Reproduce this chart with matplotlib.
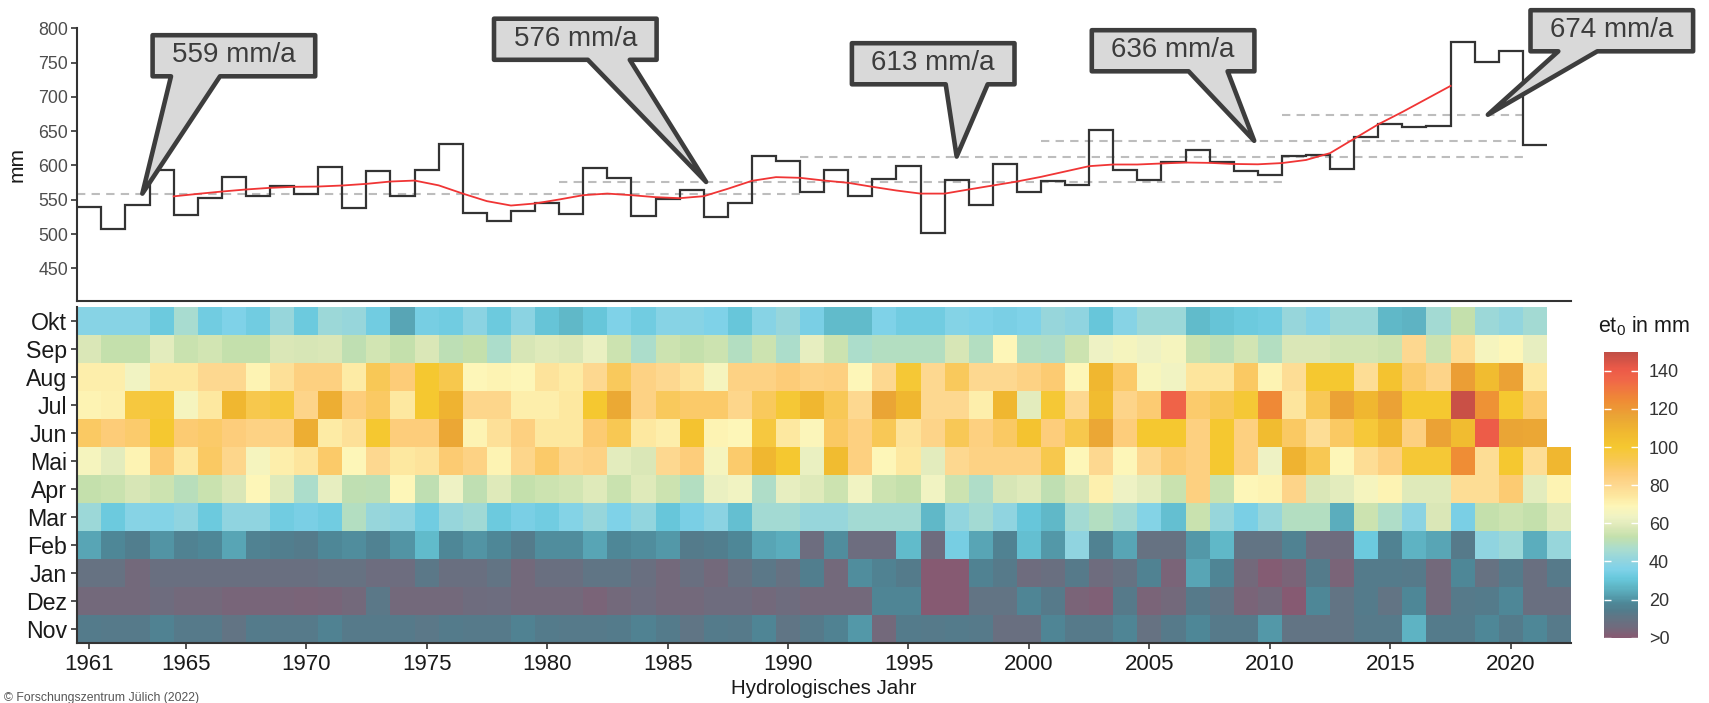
import numpy as np
import matplotlib
matplotlib.use('Agg')
import matplotlib.pyplot as plt
from matplotlib.colors import LinearSegmentedColormap, Normalize
from matplotlib.patches import Polygon
from matplotlib.transforms import IdentityTransform

plt.rcParams['font.family'] = ['Liberation Sans', 'DejaVu Sans']
plt.rcParams['mathtext.fontset'] = 'custom'
plt.rcParams['mathtext.rm'] = 'Liberation Sans'
plt.rcParams['mathtext.it'] = 'Liberation Sans:italic'

nan = np.nan

### annual sums (hydrological years 1961-2021)
step_years = np.arange(1961, 2022)
annual = [539, 508, 542, 594, 528, 552, 583, 555, 570, 559,
          598, 538, 592, 555, 593, 631, 530.5, 519, 533, 546,
          529.5, 596.6, 582, 526, 551, 564.5, 525.6, 545, 614.5, 607,
          561, 593, 555, 580.5, 599.5, 501, 579, 543, 602, 561.6,
          577, 572, 652, 593, 579.5, 605, 622, 605.6, 592, 586,
          613.4, 615, 594.5, 642, 660, 656, 657.6, 779.6, 751.4, 767.4,
          630.4]

# smoothed curve (red)
smooth_x = np.arange(1964.5, 2018.0, 1.0)
smooth_y = [555, 558.6, 562, 565, 567.4, 568.9, 569.3, 570.8, 573.2, 576.6, 578,
            571, 559, 548, 541.6, 544.6, 550.4, 556.7, 559, 556.7, 553.8,
            552.3, 555.2, 566, 577.6, 583, 582, 578, 574.7, 568.9, 563.5,
            559, 559, 565, 570.8, 576.6, 583.4, 591.2, 599, 601.4, 601.4,
            602.9, 604.3, 603.8, 602.2, 601.7, 603.5, 608, 618, 639, 660,
            678, 697, 716]

# period means (dashed lines + callouts)
period_start = [1961, 1981, 1991, 2001, 2011]
period_end = [1990, 2010, 2020, 2020, 2020]
period_mean = [559, 576, 613, 636, 674]

### monthly et0 (1961-2022)
years = np.arange(1961, 2023)
months = ['Nov', 'Dez', 'Jan', 'Feb', 'Mar', 'Apr', 'Mai', 'Jun', 'Jul', 'Aug', 'Sep', 'Okt']

nov = [14, 13, 13, 16, 13, 13, 10, 14, 13, 13, 16, 13, 13, 13, 12, 14, 13, 13, 16, 14,
       13, 13, 14, 16, 14, 11, 14, 13, 17, 11, 13, 16, 21, 5, 14, 13, 14, 13, 8, 8,
       17, 13, 13, 17, 9, 13, 18, 13, 13, 21, 10, 10, 10, 13, 13, 26, 14, 14, 18, 14,
       18, 13]
dez = [5, 5, 5, 6, 5, 5, 4, 4, 4, 3, 4, 5, 12, 5, 5, 5, 6, 7, 5, 5,
       5, 3, 5, 7, 5, 5, 6, 6, 5, 6, 5, 5, 5, 17, 17, 0.5, 0.5, 10, 10, 17,
       13, 3, 2, 13, 3, 5, 13, 11, 3, 5, 0.5, 18, 10, 14, 10, 18, 5, 13, 14, 18,
       8, 8]
jan = [9, 9, 5, 8, 8, 8, 8, 8, 8, 8, 9, 9, 7, 7, 12, 8, 8, 10, 5, 8,
       8, 11, 11, 8, 5, 8, 5, 9, 12, 9, 15, 5, 19, 16, 14, 0.5, 0.5, 16, 13, 6,
       8, 13, 6, 9, 16, 3, 23, 17, 5, 1, 3, 14, 3, 14, 14, 13, 5, 18, 9, 14,
       8, 13]
feb = [23, 18, 15, 20, 16, 18, 23, 16, 15, 14, 18, 19, 16, 20, 28, 18, 20, 18, 14, 19,
       19, 23, 18, 19, 21, 14, 15, 18, 23, 25, 7, 19, 7, 7, 28, 6, 34, 23, 16, 29,
       21, 40, 16, 23, 9, 9, 21, 27, 10, 10, 16, 7, 6, 32, 16, 26, 23, 13, 40, 43,
       25, 42]
mar = [43, 32, 38, 37, 40, 32, 40, 40, 33, 35, 33, 49, 42, 40, 33, 42, 44, 32, 35, 33,
       37, 42, 36, 41, 31, 35, 39, 29, 45, 45, 42, 42, 45, 45, 45, 27, 41, 45, 40, 31,
       27, 45, 49, 45, 37, 29, 54, 42, 35, 42, 49, 49, 25, 55, 48, 39, 58, 35, 53, 55,
       53, 59]
apr = [53, 54, 57, 55, 50, 54, 58, 69, 59, 47, 61, 52, 51, 69, 52, 63, 52, 59, 53, 55,
       56, 59, 54, 59, 55, 49, 62, 64, 48, 61, 59, 55, 64, 55, 53, 64, 55, 48, 57, 59,
       52, 57, 71, 63, 60, 54, 84, 54, 69, 70, 82, 58, 60, 66, 70, 59, 59, 78, 78, 87,
       60, 70]
mai = [66, 60, 70, 87, 74, 90, 81, 66, 72, 75, 89, 69, 80, 74, 76, 87, 83, 70, 81, 89,
       81, 83, 60, 58, 80, 85, 66, 88, 108, 100, 62, 106, 84, 69, 74, 60, 80, 83, 83, 83,
       94, 69, 80, 69, 80, 87, 84, 100, 84, 63, 110, 93, 69, 78, 84, 99, 99, 124, 78, 100,
       78, 108]
jun = [90, 86, 88, 100, 87, 89, 85, 83, 83, 112, 73, 77, 100, 85, 85, 115, 70, 77, 84, 74,
       74, 87, 93, 74, 72, 102, 70, 69, 97, 74, 68, 90, 84, 92, 76, 82, 92, 84, 90, 102,
       85, 94, 115, 85, 100, 100, 84, 100, 84, 106, 90, 78, 90, 98, 108, 84, 117, 106, 140, 116,
       115, nan]
jul = [70, 71, 97, 98, 66, 74, 108, 94, 97, 82, 112, 85, 90, 74, 100, 110, 81, 81, 72, 72,
       74, 100, 114, 83, 91, 89, 89, 81, 91, 99, 108, 92, 80, 116, 108, 80, 80, 72, 108, 60,
       99, 80, 106, 82, 87, 137, 88, 92, 99, 125, 75, 92, 117, 108, 117, 100, 100, 148, 122, 100,
       88, nan]
aug = [72, 72, 64, 74, 74, 80, 80, 70, 77, 84, 84, 73, 92, 86, 100, 94, 69, 70, 69, 76,
       73, 80, 91, 83, 80, 76, 66, 83, 83, 86, 83, 84, 69, 80, 99, 80, 91, 80, 80, 83,
       87, 69, 108, 89, 67, 64, 75, 75, 90, 70, 78, 100, 100, 78, 102, 88, 82, 118, 106, 117,
       74, nan]
sep = [58, 53, 53, 60, 54, 56, 53, 53, 58, 57, 58, 52, 56, 53, 58, 51, 53, 47, 57, 59,
       58, 62, 55, 47, 55, 53, 55, 49, 55, 47, 61, 55, 47, 49, 49, 49, 57, 49, 69, 49,
       48, 55, 63, 66, 63, 66, 54, 51, 56, 49, 58, 58, 56, 56, 55, 80, 55, 78, 66, 69,
       61, nan]
okt = [38, 38, 38, 32, 46, 33, 36, 33, 42, 32, 43, 42, 33, 23, 34, 33, 39, 32, 39, 30,
       27, 31, 36, 33, 38, 38, 36, 31, 38, 42, 35, 28, 28, 36, 33, 33, 37, 36, 35, 36,
       42, 40, 31, 38, 43, 43, 28, 30, 32, 33, 42, 38, 43, 43, 27, 26, 45, 53, 43, 41,
       45, nan]

tick_years = [1961, 1965, 1970, 1975, 1980, 1985, 1990, 1995, 2000, 2005, 2010, 2015, 2020]
cbar_ticks = [0, 20, 40, 60, 80, 100, 120, 140]
cbar_labels = ['>0', '20', '40', '60', '80', '100', '120', '140']

### layout / style
W, H = 1709, 703
tip_year = [1963.2, 1986.6, 1997.0, 2009.35, 2019.05]       # where the callout points
box_pos = [(150.4, 33.0), (491.8, 16.5), (849.7, 41.0), (1089.6, 28.0), (1528.3, 8.0)]  # px, top-left
box_base = [(20.6, 69.6), (96, 138), (96, 138), (99, 138), (30, 69)]
box_w, box_h = 167, 45.5

cmap_pos = [0, 3, 6, 10, 14, 18, 22, 27, 31, 36, 40, 46, 53, 58, 63, 69, 74, 80,
            86, 92, 100, 108, 116, 125, 135, 141, 150]
cmap_col = ['#865a72', '#7a6478', '#6e6c7e', '#627484', '#527c8c', '#4e8898', '#56a0b0',
            '#60b8c8', '#68c8dc', '#80d2e8', '#90d4e0', '#a8dcd0', '#c4e0ac', '#dce8b8',
            '#eef2c4', '#fdf6b8', '#fde8a0', '#fdd890', '#fdcc78', '#f8c858', '#f5c830',
            '#f0b830', '#eaa535', '#ef8a35', '#f06848', '#ec5a48', '#c04e46']
cmap = LinearSegmentedColormap.from_list('et0', [(p / 150, c) for p, c in zip(cmap_pos, cmap_col)])
norm = Normalize(vmin=0, vmax=150)

fig = plt.figure(figsize=(W / 100, H / 100), dpi=100)
ax = fig.add_axes([77.3 / W, 1 - 301 / H, (1571 - 77.3) / W, (301 - 28.3) / H])
axh = fig.add_axes([77.3 / W, 1 - 643.3 / H, (1571 - 77.3) / W, (643.3 - 306.7) / H])
cax = fig.add_axes([1603.7 / W, 1 - 637.7 / H, 34.2 / W, 286 / H])

# top panel
for s, e, m in zip(period_start, period_end, period_mean):
    ax.hlines(m, s - 0.5, e + 0.5, colors='#bdbdbd', linestyles=(0, (4, 3)), lw=1.5, zorder=1)
edges = np.append(step_years - 0.5, step_years[-1] + 0.5)
ax.stairs(annual, edges, baseline=None, color='#333333', lw=1.6, zorder=2)
ax.plot(smooth_x, smooth_y, color='#f03535', lw=1.3, zorder=3)
ax.set_xlim(1960.5, 2022.5)
ax.set_ylim(402.4, 800)
ax.set_yticks(np.arange(450, 801, 50))
for sp in ['top', 'right']:
    ax.spines[sp].set_visible(False)
for sp in ['left', 'bottom']:
    ax.spines[sp].set_color('#333333')
    ax.spines[sp].set_linewidth(1.5)
ax.tick_params(axis='x', bottom=False, labelbottom=False)
ax.tick_params(axis='y', color='#333333', labelcolor='#4d4d4d', labelsize=12.8, length=4, width=1.2, pad=2.5)
ax.set_ylabel('mm', fontsize=15, color='#1a1a1a')
ax.yaxis.set_label_coords(-0.034, 0.5)

# heatmap
Z = np.ma.masked_invalid(np.array([nov, dez, jan, feb, mar, apr, mai, jun, jul, aug, sep, okt], dtype=float))
xedges = np.append(years - 0.5, years[-1] + 0.5)
yedges = np.arange(13)
mesh = axh.pcolormesh(xedges, yedges, Z, cmap=cmap, norm=norm)
axh.set_xlim(1960.5, 2022.5)
axh.set_ylim(0, 12)
axh.set_yticks(np.arange(12) + 0.5, months)
axh.set_xticks(tick_years)
for sp in ['top', 'right']:
    axh.spines[sp].set_visible(False)
for sp in ['left', 'bottom']:
    axh.spines[sp].set_color('#333333')
    axh.spines[sp].set_linewidth(1.5)
axh.tick_params(axis='y', labelsize=16.7, labelcolor='#1a1a1a', color='#333333', length=4, width=1.2, pad=3.4)
axh.tick_params(axis='x', labelsize=16, labelcolor='#1a1a1a', color='#333333', length=4, width=1.2, pad=4)
axh.set_xlabel('Hydrologisches Jahr', fontsize=14.8, color='#1a1a1a')
axh.xaxis.set_label_coords(0.5, -0.106)

# colorbar
cb = fig.colorbar(mesh, cax=cax, ticks=cbar_ticks)
cb.set_ticklabels(cbar_labels)
cb.outline.set_visible(False)
cax.tick_params(axis='y', direction='in', left=True, right=True, length=5, width=1,
                color='white', labelsize=13, labelcolor='#333333', pad=8)
fig.text(1598 / W, 1 - 326.7 / H, r'et$_0$ in mm', fontsize=15.5, ha='left', va='center', color='#1a1a1a')

# callouts
for val, tyr, (bx, by), (b0, b1) in zip(period_mean, tip_year, box_pos, box_base):
    tx, tyd = ax.transData.transform((tyr, val))
    tip = (tx, H - tyd)
    L, T = bx + 2.2, by + 2.2
    R, B = bx + box_w - 2.2, by + box_h - 2.2
    pts = [(L, T), (R, T), (R, B), (bx + b1, B), tip, (bx + b0, B), (L, B)]
    pts = [(px, H - py) for px, py in pts]
    poly = Polygon(pts, closed=True, transform=IdentityTransform(), facecolor='#d9d9d9',
                   edgecolor='#3d3d3d', lw=3.3, joinstyle='round', zorder=10)
    fig.add_artist(poly)
    fig.text((bx + box_w / 2) / W, 1 - (by + box_h / 2 - 0.5) / H, f'{val} mm/a', fontsize=20,
             ha='center', va='center', color='#3c3c3c', zorder=11)

fig.text(4 / W, 1 - 698 / H, '\u00a9 Forschungszentrum J\u00fclich (2022)', fontsize=8.8,
         color='#555555', ha='left', va='center')

fig.savefig('out.png', dpi=100)
